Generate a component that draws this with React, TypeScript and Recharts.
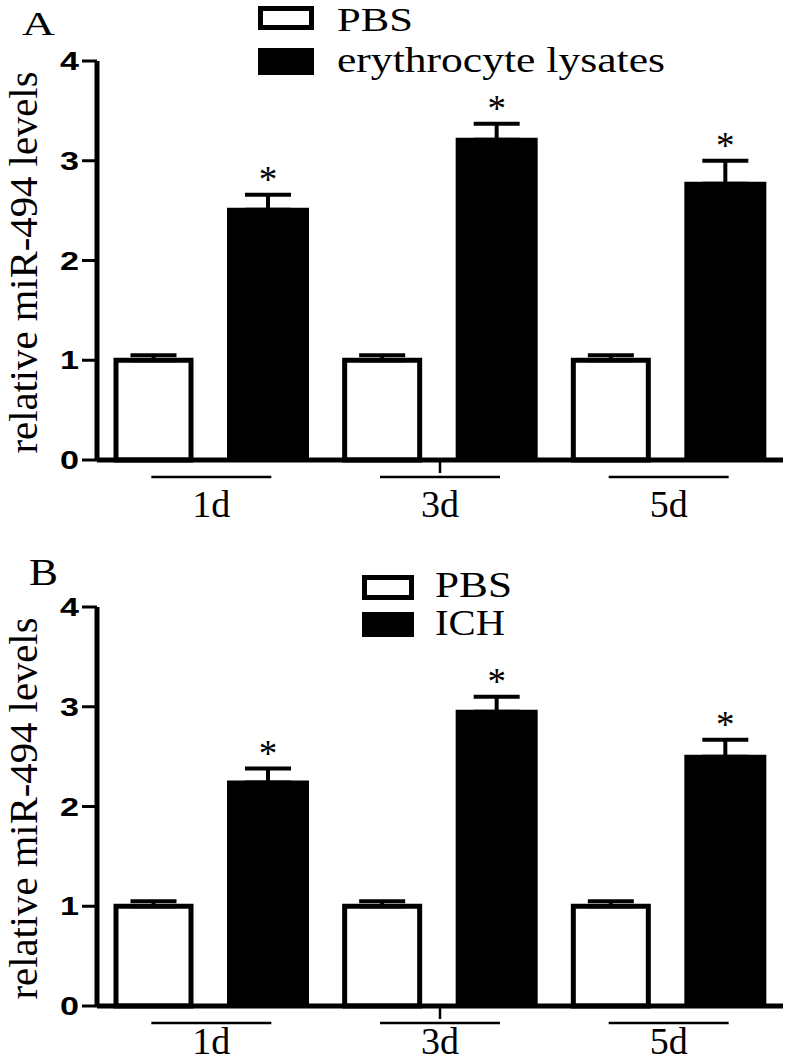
import React from 'react';
import { BarChart, Bar, XAxis, YAxis, ErrorBar, Legend } from 'recharts';

// ---------- data ----------
const days = ['1d', '3d', '5d'];
const yTicks = [0, 1, 2, 3, 4];

const pbsA = [1.0, 1.0, 1.0];
const pbsErrA = [0.05, 0.05, 0.05];
const lysA = [2.51, 3.21, 2.77];
const lysErrA = [0.15, 0.16, 0.23];

const pbsB = [1.0, 1.0, 1.0];
const pbsErrB = [0.05, 0.05, 0.05];
const ichB = [2.24, 2.95, 2.5];
const ichErrB = [0.14, 0.15, 0.17];

const legendA = ['PBS', 'erythrocyte lysates'];
const legendB = ['PBS', 'ICH'];
const yLabel = 'relative miR-494 levels';
const starText = '*';

const SERIF = '"Liberation Serif", "Times New Roman", Times, serif';
const SANS = '"Liberation Sans", Arial, Helvetica, sans-serif';

type LegendLayout = {
  letterX: number; letterY: number; letterSize: number; letterW: number;
  boxX: number; boxW: number; box1Y: number; box1H: number; box2Y: number; box2H: number;
  textX: number; t1Y: number; t2Y: number; t1W: number; t2W: number; fs: number;
};

const layoutA: LegendLayout = {
  letterX: 22, letterY: 35, letterSize: 34, letterW: 33,
  boxX: 258, boxW: 56, box1Y: 6, box1H: 24, box2Y: 48, box2H: 27,
  textX: 337, t1Y: 31, t2Y: 72, t1W: 76, t2W: 328, fs: 34,
};

const layoutB: LegendLayout = {
  letterX: 29, letterY: 39, letterSize: 38, letterW: 29,
  boxX: 362, boxW: 52, box1Y: 29, box1H: 25, box2Y: 66, box2H: 25,
  textX: 435, t1Y: 51, t2Y: 89, t1W: 77, t2W: 70, fs: 35,
};

type PanelProps = {
  top: number;
  height: number;
  xAxisHeight: number;
  labelBase: number;
  letter: string;
  labels: string[];
  ctrl: number[];
  ctrlErr: number[];
  trt: number[];
  trtErr: number[];
  lg: LegendLayout;
};

function Panel({ top, height, xAxisHeight, labelBase, letter, labels, ctrl, ctrlErr, trt, trtErr, lg }: PanelProps) {
  const data = days.map((d, i) => ({
    day: d,
    ctrl: ctrl[i],
    ctrlErr: [0, ctrlErr[i]],
    trt: trt[i],
    trtErr: [0, trtErr[i]],
  }));

  const plotTop = 61;
  const plotBottom = height - xAxisHeight;
  const yLabCx = 37;
  const yLabCy = (plotTop + plotBottom) / 2 + 2;

  const renderLegend = () => (
    <svg width={787} height={height} style={{ overflow: 'visible', display: 'block' }}>
      <text x={lg.letterX} y={lg.letterY} fontFamily={SERIF} fontSize={lg.letterSize}
        textLength={lg.letterW} lengthAdjust="spacingAndGlyphs" fill="#000">{letter}</text>
      <rect x={lg.boxX + 2.5} y={lg.box1Y + 2.5} width={lg.boxW - 5} height={lg.box1H - 5}
        fill="#fff" stroke="#000" strokeWidth={5} />
      <rect x={lg.boxX} y={lg.box2Y} width={lg.boxW} height={lg.box2H} fill="#000" />
      <text x={lg.textX} y={lg.t1Y} fontFamily={SERIF} fontSize={lg.fs} fill="#000"
        textLength={lg.t1W} lengthAdjust="spacingAndGlyphs">{labels[0]}</text>
      <text x={lg.textX} y={lg.t2Y} fontFamily={SERIF} fontSize={lg.fs + 1} fill="#000"
        textLength={lg.t2W} lengthAdjust="spacingAndGlyphs">{labels[1]}</text>
      <text x={yLabCx} y={yLabCy} transform={`rotate(-90, ${yLabCx}, ${yLabCy})`} textAnchor="middle"
        fontFamily={SERIF} fontSize={40} fill="#000" textLength={382} lengthAdjust="spacingAndGlyphs">
        {yLabel}
      </text>
    </svg>
  );

  const XTick = (props: any) => {
    const { x, y, payload, index } = props;
    return (
      <g>
        {index === 1 && (
          <line x1={x} x2={x} y1={y + 2} y2={y + 13} stroke="#000" strokeWidth={2.5} />
        )}
        <line x1={x - 60} x2={x + 60} y1={y + 17} y2={y + 17} stroke="#000" strokeWidth={2.5} />
        <text x={x} y={y + labelBase} textAnchor="middle" fontFamily={SERIF} fontSize={38} fill="#000">
          {payload.value}
        </text>
      </g>
    );
  };

  const YTick = (props: any) => {
    const { x, y, payload } = props;
    return (
      <text x={x} y={y + 9} textAnchor="end" fontFamily={SANS} fontWeight="bold" fontSize={25}
        fill="#000" textLength={19} lengthAdjust="spacingAndGlyphs">
        {payload.value}
      </text>
    );
  };

  const Star = (props: any) => {
    const vb = props.viewBox || props;
    const idx = props.index;
    if (idx == null || vb == null) return null;
    const yTop = Math.min(vb.y, vb.y + vb.height);
    const h = Math.abs(vb.height);
    const ppu = h / trt[idx];
    const capY = yTop - trtErr[idx] * ppu;
    return (
      <text x={vb.x + vb.width / 2} y={capY - 3} textAnchor="middle" fontFamily={SERIF}
        fontSize={37} fill="#000">{starText}</text>
    );
  };

  return (
    <div style={{ position: 'absolute', left: 0, top, width: 787, height }}>
      <BarChart width={787} height={height} data={data} barGap={38}
        margin={{ top: plotTop, right: 4, left: 0, bottom: 0 }}>
        <XAxis dataKey="day" height={xAxisHeight} tickSize={0} tickMargin={0} tickLine={false}
          axisLine={{ stroke: '#000', strokeWidth: 5 }} tick={<XTick />} interval={0} />
        <YAxis domain={[0, 4]} ticks={yTicks} width={97} tickSize={15} tickMargin={3}
          axisLine={{ stroke: '#000', strokeWidth: 5 }} tickLine={{ stroke: '#000', strokeWidth: 3 }}
          tick={<YTick />} interval={0} />
        <Legend content={renderLegend}
          wrapperStyle={{ position: 'absolute', left: 0, top: 0, width: 0, height: 0, overflow: 'visible' }} />
        <Bar dataKey="ctrl" barSize={75} fill="#fff" stroke="#000" strokeWidth={5} isAnimationActive={false}>
          <ErrorBar dataKey="ctrlErr" width={23} strokeWidth={4} stroke="#000" direction="y" />
        </Bar>
        <Bar dataKey="trt" barSize={78} fill="#000" stroke="#000" strokeWidth={4} isAnimationActive={false} label={Star}>
          <ErrorBar dataKey="trtErr" width={23} strokeWidth={4} stroke="#000" direction="y" />
        </Bar>
      </BarChart>
    </div>
  );
}

export default function App() {
  return (
    <div style={{ position: 'absolute', left: 0, top: 0, width: 787, height: 1062, background: '#fff', overflow: 'hidden' }}>
      <Panel top={0} height={540} xAxisHeight={80} labelBase={57} letter="A" labels={legendA}
        ctrl={pbsA} ctrlErr={pbsErrA} trt={lysA} trtErr={lysErrA} lg={layoutA} />
      <Panel top={546} height={516} xAxisHeight={56} labelBase={48} letter="B" labels={legendB}
        ctrl={pbsB} ctrlErr={pbsErrB} trt={ichB} trtErr={ichErrB} lg={layoutB} />
    </div>
  );
}
